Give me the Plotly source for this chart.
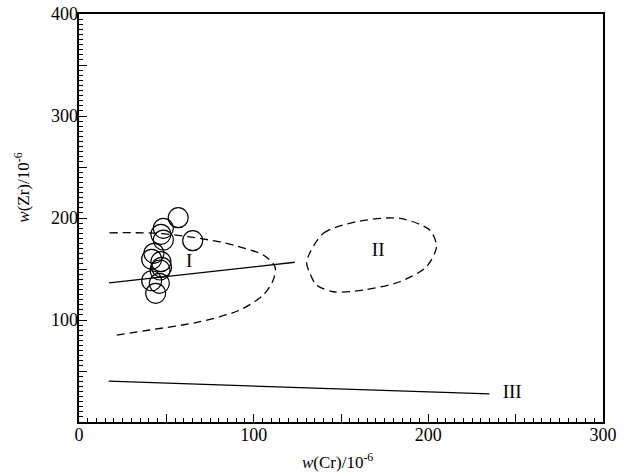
import plotly.graph_objects as go

# Sample points
cr_samples = [56.8, 48.3, 46.9, 48.3, 65.1, 42.9, 41.6, 46.9, 47.3, 46.4, 41.6, 46.0, 43.9]
zr_samples = [200.3, 189.9, 184.0, 178.4, 177.8, 165.4, 159.5, 157.2, 151.6, 149.0, 138.5, 136.0, 126.2]

# Field I dashed boundary
field1_cr = [17.4, 45, 69.3, 88.3, 105.5, 112.2, 111.2, 105.5, 92.2, 69.3, 40.6, 19.6]
field1_zr = [185.5, 185, 180, 173.5, 163.7, 152.3, 139.2, 124.5, 109.8, 98.3, 90.2, 84.6]

# Field I solid line
line1_cr = [17.2, 123.6]
line1_zr = [136.3, 156.6]

# Field II dashed boundary (closed)
field2_cr = [130.3, 139.9, 159.0, 183.7, 200.9, 204.7, 199.0, 183.7, 162.7, 145.6, 136.0, 132.2, 130.3]
field2_zr = [157.2, 185.0, 196.4, 199.7, 188.0, 171.9, 152.3, 137.5, 129.4, 127.7, 134.3, 145.8, 157.2]

# Field III solid line
line3_cr = [17.0, 235.0]
line3_zr = [40.0, 27.5]

# Field labels
label_text = ["I", "II", "III"]
label_cr = [63, 171.3, 248]
label_zr = [157, 167, 28]

# Axis ticks
x_labels = [0, 100, 200, 300]
y_labels = [100, 200, 300, 400]

serif = "Liberation Serif"

fig = go.Figure()
fig.add_trace(go.Scatter(x=field1_cr, y=field1_zr, mode="lines",
                         line=dict(color="black", width=1.3, dash="8px,5px", shape="spline", smoothing=0.8)))
fig.add_trace(go.Scatter(x=line1_cr, y=line1_zr, mode="lines",
                         line=dict(color="black", width=1.3)))
fig.add_trace(go.Scatter(x=field2_cr, y=field2_zr, mode="lines",
                         line=dict(color="black", width=1.3, dash="8px,5px", shape="spline", smoothing=0.8)))
fig.add_trace(go.Scatter(x=line3_cr, y=line3_zr, mode="lines",
                         line=dict(color="black", width=1.3)))
fig.add_trace(go.Scatter(x=cr_samples, y=zr_samples, mode="markers",
                         marker=dict(symbol="circle-open", size=20, color="black",
                                     line=dict(width=1.2, color="black"))))
fig.add_trace(go.Scatter(x=label_cr, y=label_zr, mode="text", text=label_text,
                         textfont=dict(family=serif, size=19, color="black")))

tickfont = dict(family=serif, size=18, color="black")
tick_axis = dict(
    showgrid=False, zeroline=False, showline=True, linecolor="black", linewidth=2,
    mirror=True, ticks="inside", ticklen=8, tickwidth=1.3, tickcolor="black",
    tickmode="linear", tick0=0, dtick=50, showticklabels=False, automargin=False,
    minor=dict(ticks="inside", tickmode="linear", tick0=0, dtick=5, ticklen=4,
               tickwidth=1, tickcolor="black"),
)
label_axis = dict(
    showgrid=False, zeroline=False, showline=False, ticks="", automargin=False,
    tickfont=tickfont, ticklabeloverflow="allow",
)

fig.update_layout(
    width=632, height=475,
    margin=dict(l=79, r=29, t=14, b=53),
    paper_bgcolor="white", plot_bgcolor="white",
    showlegend=False,
    xaxis=dict(range=[0, 300], **tick_axis),
    yaxis=dict(range=[0, 400], **tick_axis),
    xaxis2=dict(range=[0, 300], overlaying="x", matches="x", anchor="y", side="bottom",
                tickmode="array", tickvals=x_labels, ticktext=[str(v) for v in x_labels],
                **label_axis),
    yaxis2=dict(range=[0, 400], overlaying="y", matches="y", anchor="x", side="left",
                tickmode="array", tickvals=y_labels, ticktext=[str(v) for v in y_labels],
                **label_axis),
    annotations=[
        dict(text="<i>w</i>(Cr)/10<sup>-6</sup>", xref="paper", yref="paper",
             x=0.494, y=-0.0956, xanchor="center", yanchor="middle", showarrow=False,
             font=dict(family=serif, size=17, color="black")),
        dict(text="<i>w</i>(Zr)/10<sup>-6</sup>", xref="paper", yref="paper",
             x=-0.109, y=0.574, xanchor="center", yanchor="middle", showarrow=False,
             textangle=-90, font=dict(family=serif, size=17, color="black")),
    ],
)
# invisible anchor trace so the label axes are drawn
fig.add_trace(go.Scatter(x=cr_samples[:1], y=zr_samples[:1], mode="markers",
                         xaxis="x2", yaxis="y2", marker=dict(opacity=0), hoverinfo="skip"))

fig.write_html("out.html", config={"displayModeBar": False},
               post_script="document.body.style.margin='0';")
